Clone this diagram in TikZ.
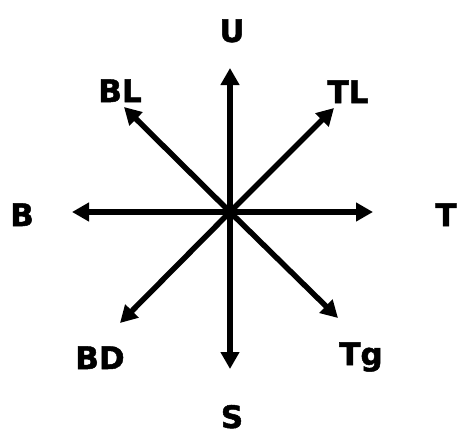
\documentclass[tikz,border=0pt]{standalone}
\usepackage{fontspec}
\setmainfont{DejaVu Sans}
\newfontfamily\heavyfont{DejaVu Sans}[BoldFeatures={FakeBold=1.6}]
\usetikzlibrary{arrows.meta}

\begin{document}
\begin{tikzpicture}[x=1pt, y=-1pt, line width=5.5pt, >={Triangle[length=17pt,width=18pt]},
    lbl/.style={anchor=base, inner sep=0pt, font=\fontsize{31}{31}\heavyfont\bfseries}]
    \useasboundingbox (0,0) rectangle (458,434);
    % centre and arrow tips
    \coordinate (o) at (230,212);
    \coordinate (tu) at (230,68);
    \coordinate (ts) at (230,369);
    \coordinate (tb) at (72,212);
    \coordinate (tt) at (373,212);
    \coordinate (tbl) at (124,107);
    \coordinate (ttl) at (334,108);
    \coordinate (tbd) at (120,323);
    \coordinate (ttg) at (338,318);
    % labels
    \node[lbl] (U) at (232,42) {U};
    \node[lbl] (S) at (232,428) {S};
    \node[lbl] (B) at (22,226) {B};
    \node[lbl] (T) at (446,226) {T};
    \node[lbl] (BL) at (120,102) {BL};
    \node[lbl] (TL) at (348,103) {TL};
    \node[lbl] (BD) at (100,369) {BD};
    \node[lbl] (Tg) at (361,365) {Tg};
    % arrows
    \draw[->] (o) -- (tu);
    \draw[->] (o) -- (ts);
    \draw[->] (o) -- (tb);
    \draw[->] (o) -- (tt);
    \draw[->] (o) -- (tbl);
    \draw[->] (o) -- (ttl);
    \draw[->] (o) -- (tbd);
    \draw[->] (o) -- (ttg);
\end{tikzpicture}
\end{document}
